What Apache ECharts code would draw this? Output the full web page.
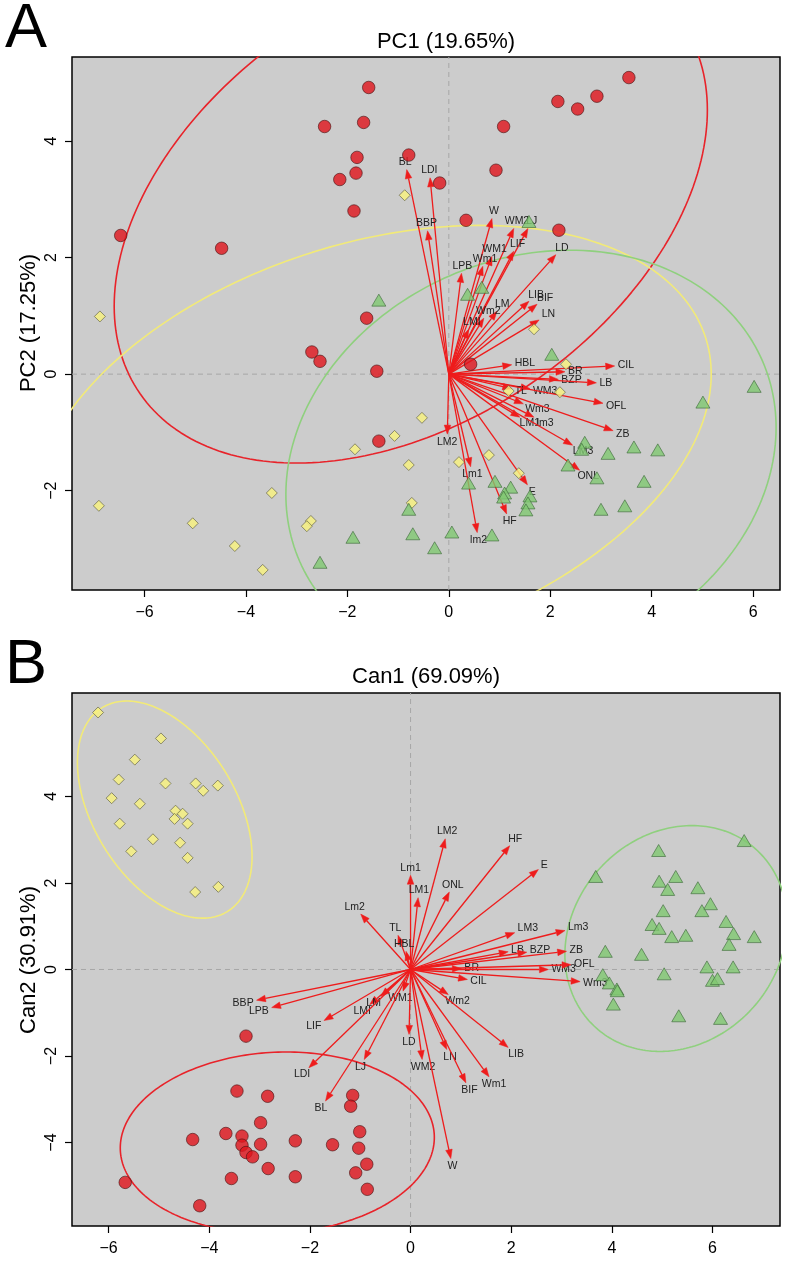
<!DOCTYPE html>
<html><head><meta charset="utf-8">
<script src="https://cdn.jsdelivr.net/npm/echarts@6/dist/echarts.min.js"></script>
<style>html,body{margin:0;padding:0;background:#fff;}#c{width:788px;height:1261px;}</style>
</head><body><div id="c"></div>
<script>
// ---------- Panel A (PCA) ----------
const redAx = [-1.58,-2.45,-1.68,1.08,2.15,2.54,2.92,3.55,-0.79,-1.81,-1.83,-2.15,-0.18,0.93,-1.87,0.34,2.17,-6.47,-4.48,-1.62,-2.70,-2.54,-1.42,-1.38,0.43];
const redAy = [4.92,4.25,4.32,4.25,4.68,4.55,4.77,5.09,3.76,3.72,3.45,3.34,3.28,3.50,2.80,2.64,2.47,2.38,2.16,0.96,0.38,0.22,0.05,-1.15,0.17];
const yelAx = [-0.87,-6.88,1.68,2.31,1.18,2.19,-0.53,-1.07,-1.85,-0.79,0.20,0.79,1.38,-0.73,-3.49,-6.90,-5.05,-2.72,-2.80,-4.22,-3.67];
const yelAy = [3.07,0.99,0.77,0.17,-0.29,-0.31,-0.75,-1.06,-1.29,-1.56,-1.51,-1.39,-1.70,-2.21,-2.04,-2.26,-2.56,-2.52,-2.61,-2.95,-3.36];
const grnAx = [1.58,0.37,0.65,-1.38,2.03,6.02,5.01,2.68,2.62,3.14,3.65,4.12,2.35,2.92,3.85,0.91,1.22,1.10,1.08,1.60,1.56,1.52,0.39,-0.79,3.00,3.47,-0.71,0.06,0.85,-0.28,-1.89,-2.54];
const grnAy = [2.62,1.37,1.49,1.27,0.34,-0.21,-0.48,-1.17,-1.29,-1.36,-1.25,-1.30,-1.56,-1.78,-1.84,-1.84,-1.94,-2.04,-2.11,-2.09,-2.21,-2.33,-1.87,-2.32,-2.32,-2.26,-2.74,-2.71,-2.76,-2.98,-2.80,-3.23];
const varA = ['BL','LDI','BBP','W','WM2','LJ','LIF','WM1','Wm1','LPB','LD','LM','LIB','BIF','Wm2','LMI','LN','HBL','CIL','BR','BZP','LB','WM3','TL','OFL','Wm3','LM1','lm3','ZB','LM3','ONL','E','LM2','Lm1','HF','lm2'];
const loadAx = [-0.83,-0.37,-0.42,0.85,1.28,1.56,1.28,0.85,0.67,0.25,2.11,0.95,1.58,1.74,0.69,0.39,1.78,1.24,3.27,2.29,2.16,2.91,1.60,1.24,3.04,1.47,1.40,1.68,3.24,2.44,2.58,1.55,-0.03,0.43,1.14,0.56];
const loadAy = [3.51,3.37,2.46,2.67,2.50,2.50,2.11,2.02,1.85,1.73,2.05,1.08,1.25,1.20,0.96,0.77,0.93,0.16,0.14,0.04,-0.09,-0.15,-0.25,-0.25,-0.50,-0.51,-0.74,-0.74,-0.97,-1.22,-1.65,-1.90,-1.03,-1.59,-2.40,-2.72];
// ellipses: [centerX, centerY, semiMajor, semiMinor, angleDeg]
const ellRedA = [-0.75, 2.85, 6.25, 3.78, 26.3];
const ellYelA = [-1.52, -1.20, 6.84, 3.48, 13.8];
const ellGrnA = [1.62, -1.49, 4.905, 3.518, 14.2];
const ticksAx = [-6,-4,-2,0,2,4,6];
const ticksAy = [-2,0,2,4];
const titleAx = 'PC1 (19.65%)';
const titleAy = 'PC2 (17.25%)';

// ---------- Panel B (CVA) ----------
const yelBx = [-6.21,-4.96,-5.48,-5.80,-4.87,-4.27,-4.12,-3.83,-5.94,-5.38,-4.67,-4.53,-4.69,-4.43,-5.78,-5.12,-4.58,-5.55,-4.43,-4.28,-3.82];
const yelBy = [5.94,5.34,4.85,4.39,4.30,4.30,4.13,4.25,3.96,3.83,3.67,3.60,3.48,3.37,3.37,3.01,2.93,2.73,2.58,1.79,1.91];
const redBx = [-3.27,-3.45,-2.84,-1.15,-1.19,-2.98,-3.67,-3.35,-4.33,-3.35,-2.98,-2.29,-1.55,-1.01,-1.03,-3.27,-3.14,-2.83,-0.87,-1.09,-3.56,-2.29,-0.86,-5.67,-4.19];
const redBy = [-1.54,-2.81,-2.93,-2.91,-3.16,-3.54,-3.79,-3.85,-3.93,-4.06,-4.04,-3.96,-4.05,-3.75,-4.13,-4.23,-4.33,-4.60,-4.50,-4.70,-4.83,-4.79,-5.08,-4.92,-5.46];
const grnBx = [6.63,4.93,3.68,4.94,5.27,5.11,5.71,5.96,5.79,5.02,4.80,4.94,5.19,5.47,6.27,6.42,6.83,6.33,3.87,4.59,5.89,6.41,5.04,3.82,3.95,4.10,4.11,6.00,6.10,4.03,5.33,6.16];
const grnBy = [2.98,2.75,2.15,2.04,2.15,1.85,1.89,1.52,1.36,1.36,1.04,0.95,0.76,0.79,1.11,0.83,0.76,0.58,0.42,0.35,0.06,0.06,-0.10,-0.12,-0.31,-0.45,-0.49,-0.25,-0.21,-0.80,-1.07,-1.13];
const varB = ['Lm1','LM1','LM2','ONL','Lm2','TL','HBL','HF','E','LM3','Lm3','LB','BZP','ZB','BR','WM3','OFL','Wm3','CIL','Wm2','WM1','BBP','LPB','LIF','LMI','LM','LD','WM2','LN','BIF','Wm1','LIB','LDI','LJ','BL','W'];
const loadBx = [0.00,0.15,0.69,0.77,-0.99,-0.25,-0.09,1.97,2.54,2.07,3.07,1.94,2.31,3.10,1.01,2.74,3.19,3.37,1.13,0.75,-0.15,-3.06,-2.76,-1.72,-0.81,-0.59,-0.03,0.23,0.72,1.10,1.56,1.94,-2.02,-0.92,-1.69,0.80];
const loadBy = [2.18,1.66,3.02,1.79,1.28,0.79,0.42,2.86,2.31,0.85,0.90,0.41,0.40,0.42,0.02,0.00,0.11,-0.28,-0.23,-0.58,-0.50,-0.71,-0.88,-1.18,-0.81,-0.62,-1.50,-2.08,-1.85,-2.62,-2.48,-1.80,-2.27,-2.08,-3.04,-4.37];
const ellYelB = [-4.885, 3.695, 2.675, 1.466, -65.5];
const ellRedB = [-2.648, -4.002, 3.125, 2.088, 4.06];
const ellGrnB = [5.274, 0.716, 2.668, 2.136, 69.7];
const ticksBx = [-6,-4,-2,0,2,4,6];
const ticksBy = [-4,-2,0,2,4];
const titleBx = 'Can1 (69.09%)';
const titleBy = 'Can2 (30.91%)';

// ---------- rendering ----------
const FONT = '"Liberation Sans", Arial, Helvetica, sans-serif';
const RANGE_A = {xmin:-7.43, xmax:6.53, ymin:-3.705, ymax:5.443};
const RANGE_B = {xmin:-6.728, xmax:7.342, ymin:-5.928, ymax:6.39};
const COL = {red:'#e0141c', yel:'#f9f27c', grn:'#7fc870', eRed:'#e8232a', eYel:'#f2ea78', eGrn:'#8fd07e', arrow:'#ee1c1c'};

const mctx = document.createElement('canvas').getContext('2d');
const LBL_SIZE = 10.5;
mctx.font = LBL_SIZE + 'px ' + FONT;
function tw(s){ return mctx.measureText(s).width; }

function zip(xs, ys){ return xs.map((x,i)=>[x, ys[i]]); }
function ellipsePts(e){
  const [cx,cy,a,b,deg] = e; const th = deg*Math.PI/180; const pts=[];
  for(let i=0;i<=240;i++){ const t=i/240*2*Math.PI;
    pts.push([cx + a*Math.cos(t)*Math.cos(th) - b*Math.sin(t)*Math.sin(th),
              cy + a*Math.cos(t)*Math.sin(th) + b*Math.sin(t)*Math.cos(th)]); }
  return pts;
}
function fmt(v){ return v<0 ? '\u2212'+Math.abs(v) : String(v); }
function xAxisCfg(gi, r, ticks){
  return {gridIndex:gi, type:'value', min:r.xmin, max:r.xmax,
    axisLine:{show:false, onZero:false}, splitLine:{show:false},
    axisTick:{show:true, customValues:ticks, length:7, lineStyle:{color:'#000', width:1.2}},
    axisLabel:{customValues:ticks, formatter:fmt, color:'#000', fontSize:16, margin:15, fontFamily:FONT}};
}
function yAxisCfg(gi, r, ticks){
  return {gridIndex:gi, type:'value', min:r.ymin, max:r.ymax,
    axisLine:{show:false, onZero:false}, splitLine:{show:false},
    axisTick:{show:true, customValues:ticks, length:7, lineStyle:{color:'#000', width:1.2}},
    axisLabel:{customValues:ticks, formatter:fmt, color:'#000', fontSize:16, margin:12, rotate:90, fontFamily:FONT}};
}
function arrowSeries(gi, names, xs, ys){
  return {type:'custom', xAxisIndex:gi, yAxisIndex:gi, z:3, clip:true,
    data: zip(xs, ys),
    renderItem: function(params, api){
      const o = api.coord([0,0]);
      const t = api.coord([api.value(0), api.value(1)]);
      const dx=t[0]-o[0], dy=t[1]-o[1]; const L=Math.hypot(dx,dy)||1;
      const ux=dx/L, uy=dy/L, hl=9, hw=3.3;
      const bx=t[0]-ux*hl, by=t[1]-uy*hl, px=-uy, py=ux;
      const name = names[params.dataIndex];
      const w = tw(name), h = 9;
      const tt = Math.min(Math.abs(ux)>1e-6 ? (w/2)/Math.abs(ux) : 1e9, Math.abs(uy)>1e-6 ? (h/2)/Math.abs(uy) : 1e9) + 3;
      return {type:'group', children:[
        {type:'line', shape:{x1:o[0],y1:o[1],x2:bx,y2:by}, style:{stroke:COL.arrow, lineWidth:1.3}},
        {type:'polygon', shape:{points:[[t[0],t[1]],[bx+px*hw,by+py*hw],[bx-px*hw,by-py*hw]]}, style:{fill:COL.arrow, stroke:COL.arrow, lineWidth:0.5}},
        {type:'text', x:t[0]+ux*tt, y:t[1]+uy*tt, style:{text:name, fill:'#222', fontSize:LBL_SIZE, fontFamily:FONT, align:'center', verticalAlign:'middle'}}
      ]};
    }};
}
function ellSeries(gi, e, color){
  return {type:'line', xAxisIndex:gi, yAxisIndex:gi, data:ellipsePts(e), showSymbol:false, symbol:'none', clip:true, z:2,
    lineStyle:{color:color, width:1.6}, silent:true};
}
function zeroSeries(gi, r){
  const ls = {color:'#a6a6a6', width:1, type:[5,4]};
  return [
    {type:'line', xAxisIndex:gi, yAxisIndex:gi, data:[[r.xmin,0],[r.xmax,0]], symbol:'none', lineStyle:ls, z:1, silent:true},
    {type:'line', xAxisIndex:gi, yAxisIndex:gi, data:[[0,r.ymin],[0,r.ymax]], symbol:'none', lineStyle:ls, z:1, silent:true}
  ];
}
function pts(gi, xs, ys, kind){
  const base = {type:'scatter', xAxisIndex:gi, yAxisIndex:gi, data:zip(xs,ys), z:4, silent:true};
  if(kind==='red') return Object.assign(base,{symbol:'circle', symbolSize:12.5, itemStyle:{color:COL.red, borderColor:'#4a1414', borderWidth:0.8}});
  if(kind==='yel') return Object.assign(base,{symbol:'diamond', symbolSize:[11,11], itemStyle:{color:COL.yel, borderColor:'#5a5a40', borderWidth:0.8}});
  return Object.assign(base,{symbol:'triangle', symbolSize:[14,12], itemStyle:{color:COL.grn, borderColor:'#3f6a3c', borderWidth:0.8}});
}

const gridBase = {show:true, backgroundColor:'#cccccc', borderColor:'#000', borderWidth:1.5, containLabel:false};
const option = {
  animation:false,
  backgroundColor:'#ffffff',
  grid:[Object.assign({left:72, top:57, width:708, height:533}, gridBase),
        Object.assign({left:72, top:693, width:708, height:533}, gridBase)],
  xAxis:[xAxisCfg(0, RANGE_A, ticksAx), xAxisCfg(1, RANGE_B, ticksBx)],
  yAxis:[yAxisCfg(0, RANGE_A, ticksAy), yAxisCfg(1, RANGE_B, ticksBy)],
  graphic:[
    {type:'text', x:5, y:-2, style:{text:'A', fontSize:63, fontFamily:FONT, fill:'#000'}},
    {type:'text', x:446, y:42, style:{text:titleAx, fontSize:22, fontFamily:FONT, fill:'#000', align:'center', verticalAlign:'middle'}},
    {type:'text', x:29, y:323, rotation:Math.PI/2, style:{text:titleAy, fontSize:22, fontFamily:FONT, fill:'#000', align:'center', verticalAlign:'middle'}},
    {type:'text', x:5, y:634, style:{text:'B', fontSize:63, fontFamily:FONT, fill:'#000'}},
    {type:'text', x:426, y:677, style:{text:titleBx, fontSize:22, fontFamily:FONT, fill:'#000', align:'center', verticalAlign:'middle'}},
    {type:'text', x:29, y:960, rotation:Math.PI/2, style:{text:titleBy, fontSize:22, fontFamily:FONT, fill:'#000', align:'center', verticalAlign:'middle'}}
  ],
  series:[
    ...zeroSeries(0, RANGE_A),
    ellSeries(0, ellRedA, COL.eRed), ellSeries(0, ellYelA, COL.eYel), ellSeries(0, ellGrnA, COL.eGrn),
    arrowSeries(0, varA, loadAx, loadAy),
    pts(0, redAx, redAy, 'red'), pts(0, yelAx, yelAy, 'yel'), pts(0, grnAx, grnAy, 'grn'),
    ...zeroSeries(1, RANGE_B),
    ellSeries(1, ellYelB, COL.eYel), ellSeries(1, ellRedB, COL.eRed), ellSeries(1, ellGrnB, COL.eGrn),
    arrowSeries(1, varB, loadBx, loadBy),
    pts(1, redBx, redBy, 'red'), pts(1, yelBx, yelBy, 'yel'), pts(1, grnBx, grnBy, 'grn')
  ]
};
const chart = echarts.init(document.getElementById('c'), null, {renderer:'canvas', width:788, height:1261});
chart.setOption(option);
</script></body></html>
